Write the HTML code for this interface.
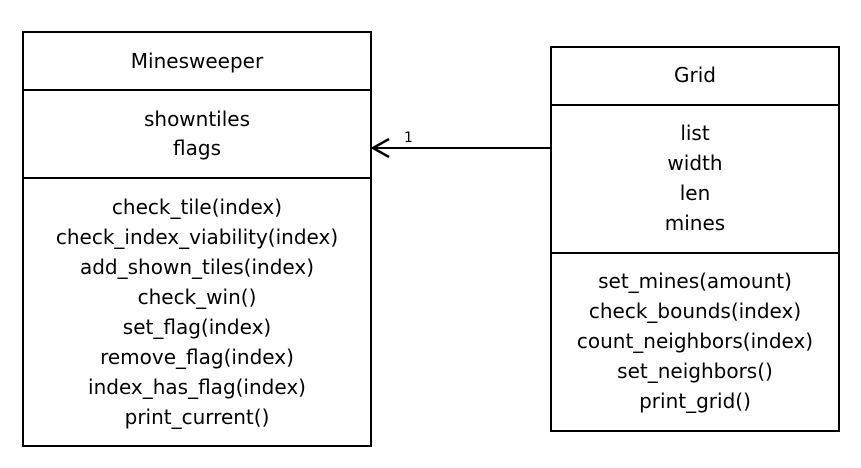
<!DOCTYPE html>
<html><head><meta charset="utf-8"><style>html,body{margin:0;padding:0;background:#fff}</style></head>
<body>
<svg width="861" height="463" xmlns="http://www.w3.org/2000/svg" font-family="'DejaVu Sans', sans-serif" font-size="20" text-anchor="middle">
<rect x="0" y="0" width="861" height="463" fill="#fff"/>
<g fill="none" stroke="#000" stroke-width="2">
<rect x="23" y="32" width="348" height="414"/>
<line x1="23" y1="90" x2="371" y2="90"/>
<line x1="23" y1="178" x2="371" y2="178"/>
<rect x="551" y="47" width="288" height="384"/>
<line x1="551" y1="105" x2="839" y2="105"/>
<line x1="551" y1="253" x2="839" y2="253"/>
<line x1="373" y1="148" x2="551" y2="148"/>
<polyline points="389,139 373,148 389,157" stroke-width="2.5"/>
</g>
<text x="404" y="142" font-size="14" text-anchor="start">1</text>
<g>
<text x="197" y="68">Minesweeper</text>
<text x="197" y="126">showntiles</text>
<text x="197" y="155">flags</text>
<text x="197" y="214">check_tile(index)</text>
<text x="197" y="244">check_index_viability(index)</text>
<text x="197" y="274">add_shown_tiles(index)</text>
<text x="197" y="304">check_win()</text>
<text x="197" y="334">set_flag(index)</text>
<text x="197" y="364">remove_flag(index)</text>
<text x="197" y="394">index_has_flag(index)</text>
<text x="197" y="424">print_current()</text>
<text x="695" y="82">Grid</text>
<text x="695" y="140">list</text>
<text x="695" y="170">width</text>
<text x="695" y="200">len</text>
<text x="695" y="230">mines</text>
<text x="695" y="288">set_mines(amount)</text>
<text x="695" y="318">check_bounds(index)</text>
<text x="695" y="348">count_neighbors(index)</text>
<text x="695" y="378">set_neighbors()</text>
<text x="695" y="408">print_grid()</text>
</g>
</svg>
</body></html>
